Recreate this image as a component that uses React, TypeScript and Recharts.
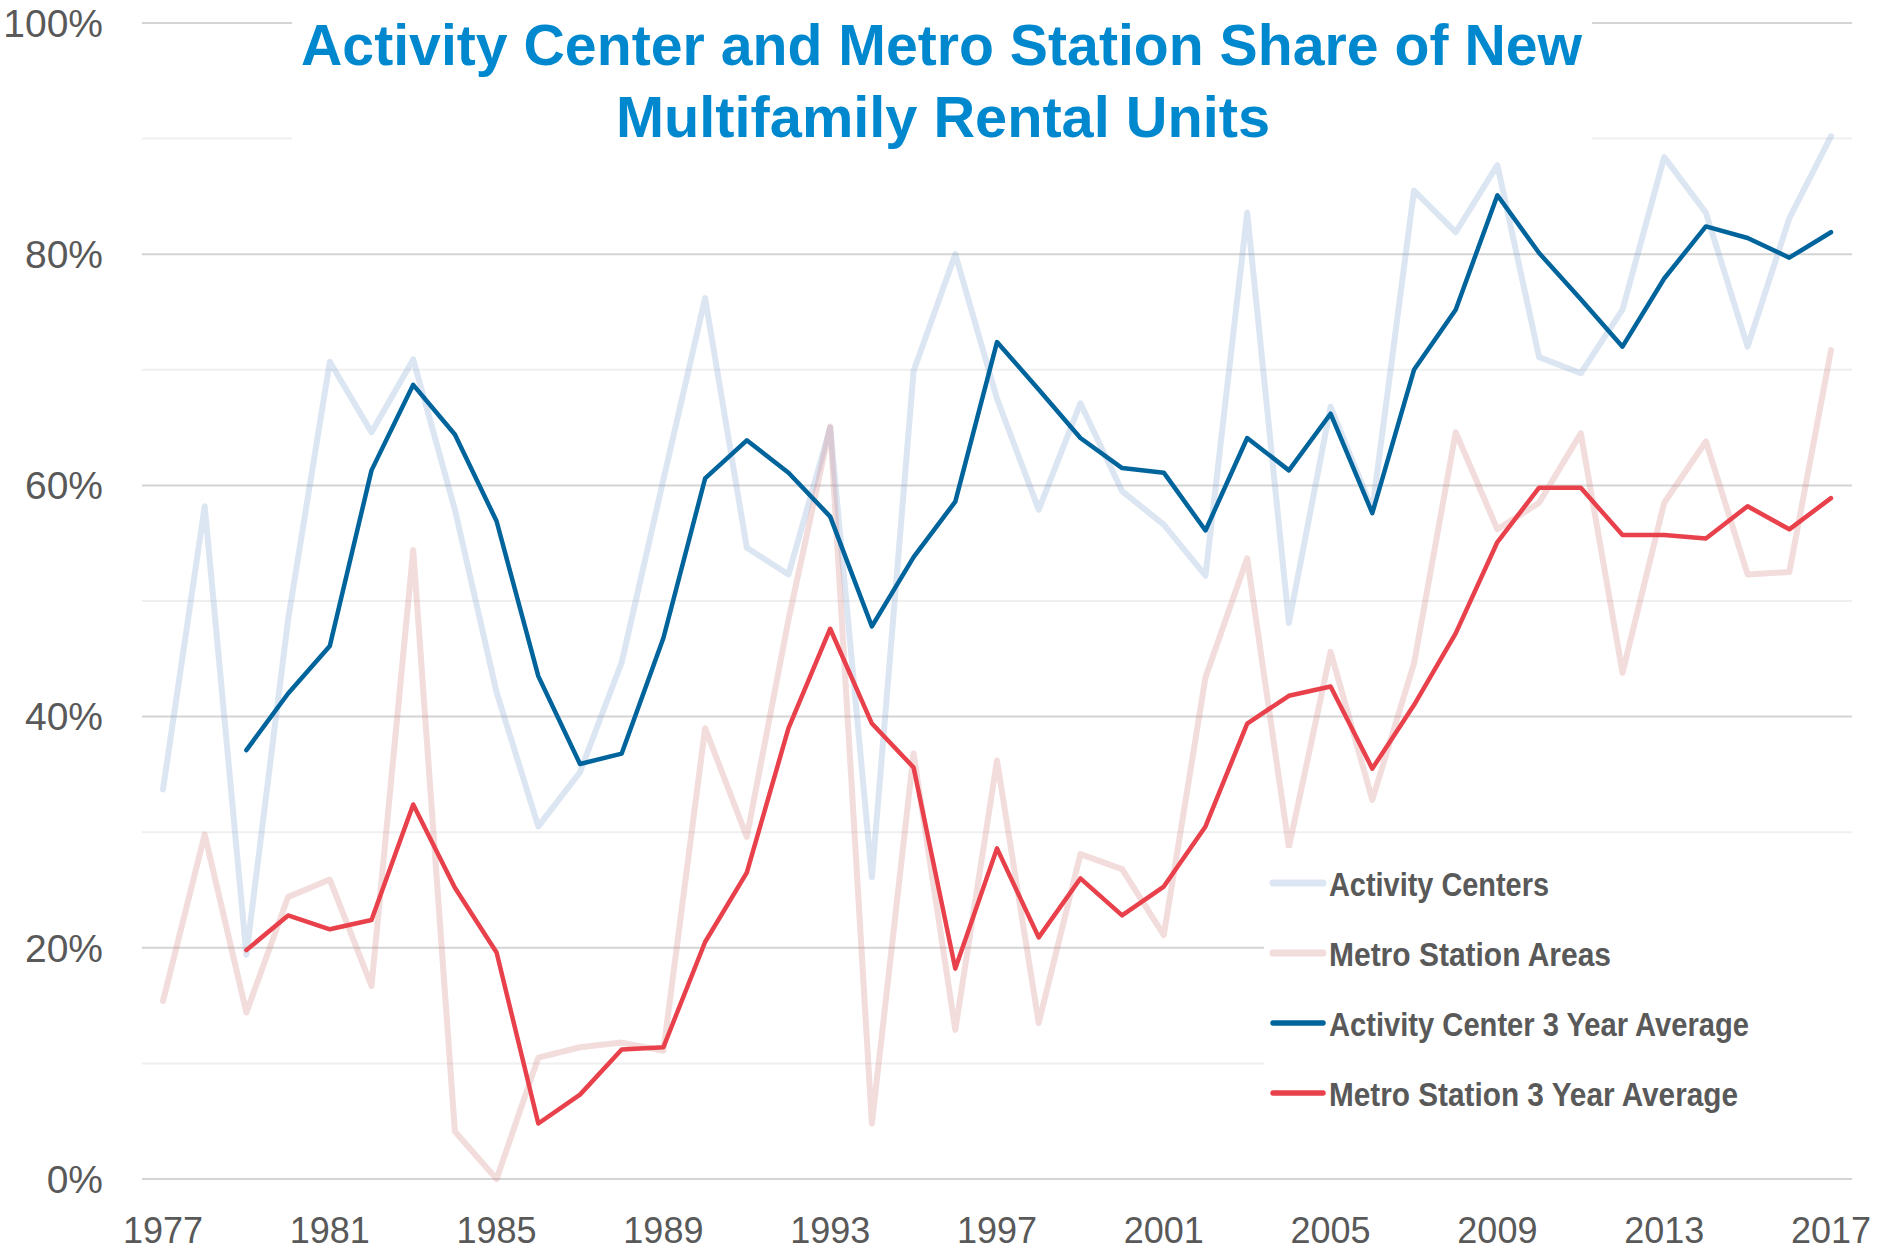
import React from "react";
import { CartesianGrid, Legend, Line, LineChart, XAxis, YAxis } from "recharts";

const years = [
  1977, 1978, 1979, 1980, 1981, 1982, 1983, 1984, 1985, 1986, 1987, 1988, 1989, 1990,
  1991, 1992, 1993, 1994, 1995, 1996, 1997, 1998, 1999, 2000, 2001, 2002, 2003, 2004,
  2005, 2006, 2007, 2008, 2009, 2010, 2011, 2012, 2013, 2014, 2015, 2016, 2017
];

const activityCenters = [
  33.7, 58.2, 19.4, 48.4, 70.7, 64.6, 70.9, 57.9, 42.1, 30.5, 35.2, 44.7, 60.5, 76.2,
  54.6, 52.3, 65.0, 26.1, 69.9, 80.0, 67.5, 57.9, 67.1, 59.5, 56.6, 52.2, 83.6, 48.1,
  66.8, 57.9, 85.5, 81.9, 87.7, 71.1, 69.7, 75.2, 88.4, 83.6, 72.0, 83.1, 90.2
];

const metroAreas = [
  15.4, 29.8, 14.4, 24.4, 25.9, 16.7, 54.4, 4.1, 0.0, 10.5, 11.4, 11.8, 11.1, 39.0,
  29.6, 48.4, 65.1, 4.8, 36.8, 12.9, 36.2, 13.5, 28.1, 26.8, 21.1, 43.4, 53.7, 28.7,
  45.6, 32.8, 44.6, 64.6, 56.2, 58.5, 64.5, 43.8, 58.5, 63.8, 52.3, 52.5, 71.7
];

const activityAvg = [
  null, null, 37.1, 42.0, 46.1, 61.3, 68.7, 64.4, 56.9, 43.5, 35.9, 36.8, 46.8, 60.6,
  63.9, 61.1, 57.3, 47.8, 53.8, 58.6, 72.4, 68.3, 64.1, 61.5, 61.1, 56.1, 64.1, 61.3,
  66.2, 57.6, 70.0, 75.2, 85.1, 80.1, 76.1, 72.0, 77.9, 82.4, 81.4, 79.7, 81.9
];

const metroAvg = [
  null, null, 19.8, 22.8, 21.6, 22.4, 32.4, 25.2, 19.6, 4.8, 7.3, 11.2, 11.4, 20.5,
  26.5, 39.0, 47.6, 39.4, 35.6, 18.2, 28.6, 20.9, 26.0, 22.8, 25.3, 30.5, 39.4, 41.8,
  42.6, 35.5, 41.0, 47.2, 55.1, 59.8, 59.8, 55.7, 55.7, 55.4, 58.2, 56.2, 58.9
];

const yTicks = [0, 10, 20, 30, 40, 50, 60, 70, 80, 90, 100];

const titleLines = ["Activity Center and Metro Station Share of New", "Multifamily Rental Units"];

// textLen: width each legend label takes in the original (condensed font)
const series = [
  { key: "ac", name: "Activity Centers", color: "#8aacd4", width: 6, opacity: 0.3, textLen: 220 },
  { key: "ms", name: "Metro Station Areas", color: "#d48a8a", width: 6, opacity: 0.3, textLen: 282 },
  { key: "acAvg", name: "Activity Center 3 Year Average", color: "#00649c", width: 4.5, opacity: 1, textLen: 420 },
  { key: "msAvg", name: "Metro Station 3 Year Average", color: "#e8414b", width: 4.5, opacity: 1, textLen: 409 }
];

const data = years.map((year, i) => ({
  year,
  ac: activityCenters[i],
  ms: metroAreas[i],
  acAvg: activityAvg[i],
  msAvg: metroAvg[i]
}));

const tickFont = "'Liberation Sans', Arial, sans-serif";
const boldFont = "'Liberation Sans', Arial, sans-serif";
const titleSqueeze = 0.86;

// major lines every 20%, light ones in between
function gridLine(props: any) {
  const { x1, x2, y1, y, height } = props;
  const value = Math.round(((y + height - y1) / height) * 100);
  const major = value % 20 === 0;
  return (
    <line
      key={`g-${value}`}
      x1={x1}
      x2={x2}
      y1={y1}
      y2={y1}
      stroke={major ? "#d4d4d4" : "#efefef"}
      strokeWidth={2}
    />
  );
}

function LegendBox() {
  return (
    <svg width={600} height={292} style={{ display: "block", background: "#fff" }}>
      {series.map((s, i) => {
        const cy = 35 + i * 70;
        return (
          <g key={s.key}>
            <line
              x1={9}
              x2={59}
              y1={cy}
              y2={cy}
              stroke={s.color}
              strokeOpacity={s.opacity}
              strokeWidth={s.width + 1}
              strokeLinecap="round"
            />
            <text
              x={65}
              y={cy + 13}
              fontFamily={boldFont}
              fontWeight={700}
              fontSize={34}
              fill="#595959"
              textLength={s.textLen}
              lengthAdjust="spacingAndGlyphs"
            >
              {s.name}
            </text>
          </g>
        );
      })}
    </svg>
  );
}

export default function App() {
  return (
    <div style={{ position: "absolute", left: 0, top: 0, width: 1883, height: 1253, background: "#fff" }}>
      <LineChart
        width={1883}
        height={1253}
        data={data}
        margin={{ top: 23, right: 31, bottom: 0, left: 0 }}
      >
        <CartesianGrid vertical={false} horizontal={gridLine} />
        <XAxis
          dataKey="year"
          interval={3}
          axisLine={false}
          tickLine={false}
          height={74}
          tickMargin={32}
          padding={{ left: 21, right: 21 }}
          tick={{ fill: "#595959", fontSize: 36, fontFamily: tickFont }}
        />
        <YAxis
          domain={[0, 100]}
          ticks={yTicks}
          width={142}
          axisLine={false}
          tickLine={false}
          tickMargin={33}
          tickFormatter={(v: number) => (v % 20 === 0 ? `${v}%` : "")}
          tick={{ fill: "#595959", fontSize: 39, fontFamily: tickFont }}
        />
        {series.map((s) => (
          <Line
            key={s.key}
            dataKey={s.key}
            name={s.name}
            stroke={s.color}
            strokeOpacity={s.opacity}
            strokeWidth={s.width}
            strokeLinejoin="round"
            strokeLinecap="round"
            dot={false}
            activeDot={false}
            isAnimationActive={false}
          />
        ))}
        <Legend
          layout="vertical"
          align="center"
          verticalAlign="middle"
          content={() => <LegendBox />}
          wrapperStyle={{ left: 1264, top: 848, width: 600, height: 292, right: "auto", bottom: "auto" }}
        />
      </LineChart>
      <svg
        width={1300}
        height={150}
        style={{ position: "absolute", left: 292, top: 0, background: "#fff" }}
      >
        <text
          transform={`translate(649.5 65) scale(${titleSqueeze} 1)`}
          textAnchor="middle"
          fontFamily={boldFont}
          fontWeight={700}
          fontSize={58}
          fill="#0088cf"
          textLength={1281 / titleSqueeze}
          lengthAdjust="spacingAndGlyphs"
        >
          {titleLines[0]}
        </text>
        <text
          transform={`translate(651 137) scale(${titleSqueeze} 1)`}
          textAnchor="middle"
          fontFamily={boldFont}
          fontWeight={700}
          fontSize={58}
          fill="#0088cf"
          textLength={654 / titleSqueeze}
          lengthAdjust="spacingAndGlyphs"
        >
          {titleLines[1]}
        </text>
      </svg>
    </div>
  );
}
